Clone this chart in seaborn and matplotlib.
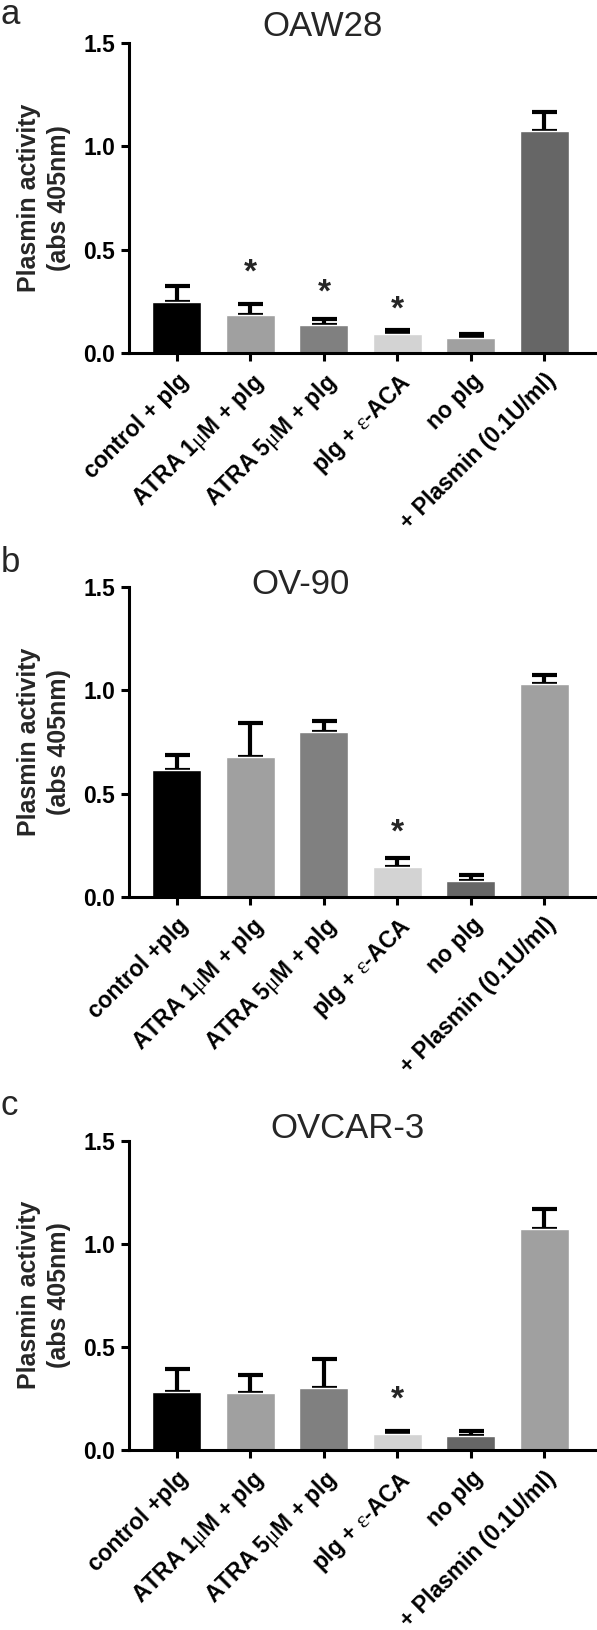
import seaborn as sns
import pandas as pd
import matplotlib.pyplot as plt

sns.set_style('white')
plt.rcParams['font.family'] = ['Liberation Sans', 'DejaVu Sans']
plt.rcParams['mathtext.fontset'] = 'custom'
plt.rcParams['mathtext.rm'] = 'Liberation Serif'
plt.rcParams['mathtext.default'] = 'rm'

# Data (mean and top of SEM bar)
labels_a = ['control + plg', 'ATRA 1$\\mu$M + plg', 'ATRA 5$\\mu$M + plg', 'plg + $\\varepsilon$-ACA', 'no plg', '+ Plasmin (0.1U/ml)']
labels_bc = ['control +plg', 'ATRA 1$\\mu$M + plg', 'ATRA 5$\\mu$M + plg', 'plg + $\\varepsilon$-ACA', 'no plg', '+ Plasmin (0.1U/ml)']

oaw28_mean = [0.247, 0.182, 0.134, 0.089, 0.073, 1.074]
oaw28_top = [0.324, 0.234, 0.163, 0.110, 0.092, 1.168]
oaw28_star = [None, 0.384, 0.287, 0.206, None, None]

ov90_mean = [0.613, 0.677, 0.798, 0.142, 0.077, 1.032]
ov90_top = [0.689, 0.842, 0.853, 0.190, 0.105, 1.077]
ov90_star = [None, None, None, 0.31, None, None]

ovcar3_mean = [0.282, 0.277, 0.303, 0.077, 0.068, 1.073]
ovcar3_top = [0.395, 0.366, 0.439, 0.092, 0.092, 1.166]
ovcar3_star = [None, None, None, 0.242, None, None]

colors_a = ['#000000', '#a0a0a0', '#808080', '#d3d3d3', '#a0a0a0', '#666666']
colors_bc = ['#000000', '#a0a0a0', '#808080', '#d3d3d3', '#666666', '#a0a0a0']

W, H = 597, 1630
fig = plt.figure(figsize=(W / 100, H / 100), dpi=100)

panels = [
    ('a', 'OAW28', labels_a, oaw28_mean, oaw28_top, oaw28_star, colors_a, 352.7, 26, 323, 24),
    ('b', 'OV-90', labels_bc, ov90_mean, ov90_top, ov90_star, colors_bc, 896.7, 585, 301, 572),
    ('c', 'OVCAR-3', labels_bc, ovcar3_mean, ovcar3_top, ovcar3_star, colors_bc, 1450, 1128, 348, 1115),
]

for letter, title, labels, mean, top, star, colors, y0, ty, tx, ly in panels:
    ax = fig.add_axes([129 / W, (H - y0) / H, 467 / W, 309.4 / H])
    df = pd.DataFrame({'group': labels, 'value': mean})
    sns.barplot(data=df, x='group', y='value', hue='group', palette=colors,
                legend=False, width=0.667, saturation=1, errorbar=None, ax=ax, zorder=2)
    xs = list(range(len(labels)))
    ax.errorbar(xs, mean, yerr=[[0] * len(mean), [t - m for t, m in zip(top, mean)]],
                fmt='none', ecolor='black', elinewidth=3, capsize=9, capthick=3, zorder=1)
    for i, s in enumerate(star):
        if s is not None:
            ax.text(i, s, '*', ha='center', va='center', fontsize=24, fontweight='bold')

    ax.set_xlim(-0.653, 5.703)
    ax.set_ylim(0, 1.5)
    ax.set_yticks([0, 0.5, 1.0, 1.5])
    ax.set_yticklabels(['0.0', '0.5', '1.0', '1.5'], fontsize=16.5, fontweight='bold')
    ax.set_xticks(xs)
    ax.set_xticklabels(labels, rotation=45, ha='right', rotation_mode='anchor',
                       fontsize=16.5, fontweight='bold')
    ax.tick_params(axis='both', direction='out', length=6, width=2.2, pad=4,
                   bottom=True, left=True, colors='black')
    ax.tick_params(axis='x', pad=6)
    ax.set_xlabel('')
    ax.set_ylabel('')
    sns.despine(ax=ax)
    for sp in ['left', 'bottom']:
        ax.spines[sp].set_linewidth(2.2)
        ax.spines[sp].set_color('black')

    fig.text(tx / W, 1 - ty / H, title, ha='center', va='center', fontsize=25)
    fig.text(1 / W, 1 - ly / H, letter, ha='left', va='baseline', fontsize=25)
    fig.text(44 / W, 1 - (y0 - 155) / H, 'Plasmin activity\n(abs 405nm)', rotation=90,
             ha='center', va='center', fontsize=18, fontweight='bold', linespacing=1.35)

fig.savefig('out.png', dpi=100)
